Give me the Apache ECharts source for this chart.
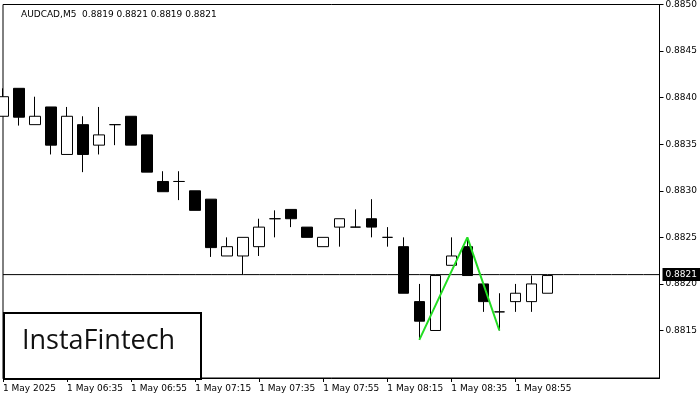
<!DOCTYPE html>
<html>
<head>
<meta charset="utf-8">
<script src="https://cdn.jsdelivr.net/npm/echarts@6/dist/echarts.min.js"></script>
<style>html,body{margin:0;padding:0;background:#fff}#chart{width:700px;height:400px}</style>
</head>
<body>
<div id="chart"></div>
<script>
// time labels, one per bar (5 min)
const times = ['1 May 2025','06:20','06:25','06:30','06:35','06:40','06:45','06:50','06:55','07:00','07:05','07:10',
  '07:15','07:20','07:25','07:30','07:35','07:40','07:45','07:50','07:55','08:00','08:05','08:10',
  '08:15','08:20','08:25','08:30','08:35','08:40','08:45','08:50','08:55','09:00','09:05'];
// [open, close, low, high]
const ohlc = [
  [0.88380,0.88401,0.88380,0.88410],[0.88410,0.88379,0.88370,0.88410],[0.88371,0.88380,0.88371,0.88401],
  [0.88390,0.88349,0.88339,0.88390],[0.88339,0.88380,0.88339,0.88390],[0.88371,0.88339,0.88320,0.88380],
  [0.88349,0.88360,0.88339,0.88390],[0.88371,0.88371,0.88349,0.88371],[0.88380,0.88349,0.88349,0.88380],
  [0.88360,0.88320,0.88320,0.88360],[0.88310,0.88299,0.88299,0.88321],[0.88310,0.88310,0.88290,0.88321],
  [0.88300,0.88279,0.88279,0.88300],[0.88291,0.88239,0.88229,0.88291],[0.88230,0.88240,0.88230,0.88250],
  [0.88230,0.88250,0.88210,0.88250],[0.88240,0.88261,0.88230,0.88270],[0.88270,0.88270,0.88250,0.88279],
  [0.88280,0.88270,0.88261,0.88280],[0.88261,0.88250,0.88250,0.88261],[0.88240,0.88250,0.88240,0.88250],
  [0.88261,0.88270,0.88240,0.88270],[0.88261,0.88261,0.88261,0.88280],[0.88270,0.88261,0.88250,0.88291],
  [0.88250,0.88250,0.88240,0.88261],[0.88240,0.88190,0.88190,0.88250],[0.88181,0.88160,0.88140,0.88200],
  [0.88150,0.88209,0.88150,0.88209],[0.88220,0.88230,0.88220,0.88250],[0.88240,0.88209,0.88209,0.88250],
  [0.88200,0.88181,0.88170,0.88200],[0.88170,0.88170,0.88150,0.88190],[0.88181,0.88190,0.88170,0.88200],
  [0.88181,0.88200,0.88170,0.88209],[0.88190,0.88209,0.88190,0.88209]
];
// double top pattern: bar index, price
const patternPts = [[26,0.8814],[29,0.8825],[31,0.8815]];
const yTicks = [0.8815,0.8820,0.8825,0.8830,0.8835,0.8840,0.8845,0.8850];
const lastPrice = 0.8821;

const slots = 42;
const cats = [];
for (let i = 0; i < slots; i++) cats.push(i < times.length ? times[i] : '');
const showTick = i => i % 4 === 0 && i < times.length;
const lastLine = cats.map(() => lastPrice);

var chart = echarts.init(document.getElementById('chart'));
chart.setOption({
  animation: false,
  textStyle: { fontFamily: 'DejaVu Sans' },
  grid: { left: 3, right: 38, top: 3, bottom: 22, show: true, borderColor: '#000', borderWidth: 1, backgroundColor: '#fff' },
  title: {
    text: 'AUDCAD,M5  0.8819 0.8821 0.8819 0.8821', left: 16, top: 5,
    textStyle: { fontSize: 9, fontWeight: 'normal', color: '#000' }
  },
  xAxis: {
    type: 'category', data: cats, boundaryGap: false,
    axisLine: { lineStyle: { color: '#000' } },
    axisTick: { interval: showTick, length: 4, lineStyle: { color: '#000' } },
    axisLabel: {
      interval: showTick, align: 'left', fontSize: 9, color: '#000', margin: 6,
      formatter: v => v === '' ? '' : (v.indexOf('May') >= 0 ? v : '1 May ' + v)
    },
    splitLine: { show: false }
  },
  yAxis: {
    type: 'value', position: 'right', min: 0.88099, max: 0.8850, scale: true,
    axisLine: { show: true, lineStyle: { color: '#000' } },
    axisTick: { show: true, length: 4, customValues: yTicks, lineStyle: { color: '#000' } },
    axisLabel: { customValues: yTicks, fontSize: 9, color: '#000', margin: 6, formatter: v => v.toFixed(4) },
    splitLine: { show: false }
  },
  series: [
    {
      // current price line
      type: 'line', data: lastLine, symbol: 'none', silent: true,
      lineStyle: { color: '#000', width: 1 }, z: 1,
      endLabel: {
        show: true, formatter: lastPrice.toFixed(4), color: '#fff', backgroundColor: '#000',
        fontSize: 9, padding: [2, 3], distance: 3
      }
    },
    {
      type: 'candlestick', data: ohlc, barWidth: 11, z: 3,
      itemStyle: { color: '#fff', color0: '#000', borderColor: '#000', borderColor0: '#000', borderWidth: 1 }
    },
    {
      type: 'line', data: patternPts, symbol: 'none',
      lineStyle: { color: '#22dd22', width: 2 }, z: 5
    }
  ],
  graphic: [
    { type: 'rect', left: 3, top: 312, shape: { width: 197, height: 66 }, style: { fill: '#fff', stroke: '#000', lineWidth: 2 } },
    { type: 'text', left: 22, top: 328, style: { text: 'InstaFintech', font: '500 27px "Open Sans"', fill: '#111' } }
  ]
});
</script>
</body>
</html>
